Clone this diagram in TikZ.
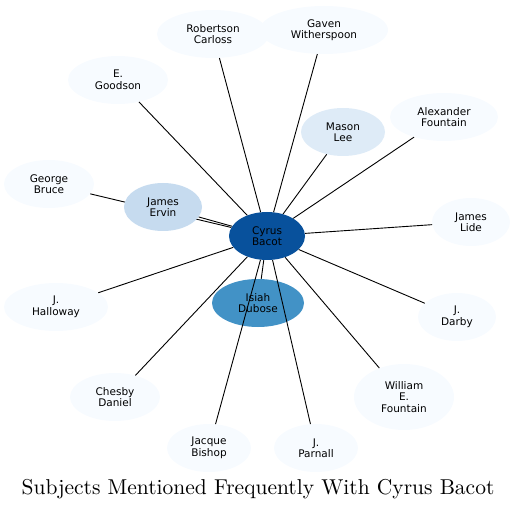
\documentclass[tikz,border=0pt]{standalone}
\usepackage{fontspec}
\usetikzlibrary{shapes.geometric}
\newfontfamily\nodefont{DejaVu Sans}
\newfontfamily\titlefont{lmroman10-regular}[Extension=.otf]
\definecolor{c0}{HTML}{F7FBFF}
\definecolor{c1}{HTML}{DEEBF7}
\definecolor{c2}{HTML}{C6DBEF}
\definecolor{c3}{HTML}{4292C6}
\definecolor{c4}{HTML}{08519C}
\begin{document}
\begin{tikzpicture}[x=1pt,y=-1pt,
  person/.style={ellipse, fill=c0, inner sep=0pt, align=center,
    font=\nodefont\fontsize{10.5}{11.5}\selectfont, text=black},
  link/.style={draw=black, line width=0.9pt}]
\useasboundingbox (0,0) rectangle (516,510);
\node[person, minimum width=112, minimum height=48] (rc) at (213,34) {Robertson\\Carloss};
\node[person, minimum width=128, minimum height=48] (gw) at (324,30) {Gaven\\Witherspoon};
\node[person, minimum width=100, minimum height=48] (eg) at (118,80) {E.\\Goodson};
\node[person, minimum width=108, minimum height=48] (af) at (444,117) {Alexander\\Fountain};
\node[person, fill=c1, minimum width=84, minimum height=48] (ml) at (343,132) {Mason\\Lee};
\node[person, minimum width=90, minimum height=48] (gb) at (49,184) {George\\Bruce};
\node[person, minimum width=78, minimum height=48] (jl) at (471,222) {James\\Lide};
\node[person, fill=c4, minimum width=76, minimum height=48] (cb) at (267,236) {Cyrus\\Bacot};
\node[person, fill=c3, minimum width=92, minimum height=48] (id) at (258,303) {Isiah\\Dubose};
\node[person, minimum width=104, minimum height=48] (jh) at (56,307) {J.\\Halloway};
\node[person, minimum width=78, minimum height=48] (jd) at (457,317) {J.\\Darby};
\node[person, minimum width=90, minimum height=48] (cd) at (115,397) {Chesby\\Daniel};
\node[person, minimum width=100, minimum height=66] (wf) at (404,397) {William\\E.\\Fountain};
\node[person, minimum width=84, minimum height=48] (jb) at (209,448) {Jacque\\Bishop};
\node[person, minimum width=84, minimum height=48] (jp) at (316,448) {J.\\Parnall};
\node[font=\titlefont\fontsize{21.5}{25}\selectfont] (title) at (258,489) {Subjects Mentioned Frequently With Cyrus Bacot};
\draw[link] (cb) -- (gb);
\node[person, fill=c2, minimum width=78, minimum height=48] (je) at (163,207) {James\\Ervin};
\foreach \t in {rc,gw,eg,af,ml,je,jl,id,jh,jd,cd,wf,jb,jp}
  \draw[link] (cb) -- (\t);
\end{tikzpicture}
\end{document}
